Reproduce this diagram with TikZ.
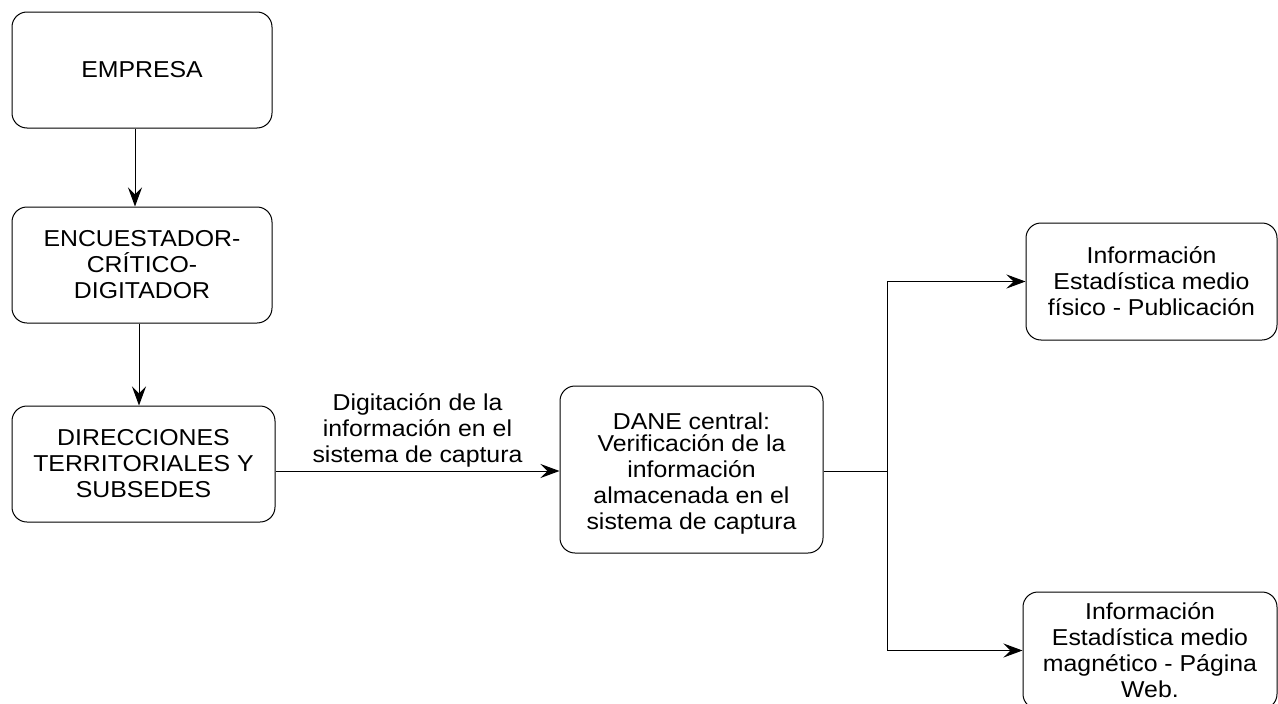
\documentclass[tikz,border=0pt]{standalone}
\usepackage{fontspec}
\setmainfont{Liberation Sans}[FakeStretch=1.08]
\usetikzlibrary{arrows.meta,calc}
\tikzset{
  box/.style={draw=black, line width=1pt, rounded corners=15pt, inner sep=0pt, align=center,
    font=\fontsize{23}{26}\selectfont},
  txt/.style={inner sep=0pt, align=center, font=\fontsize{23}{26}\selectfont},
  arr/.style={draw=black, line width=1pt, -{Stealth[length=19pt,width=14pt,inset=7pt]}},
  ln/.style={draw=black, line width=1pt}
}
\begin{document}
\begin{tikzpicture}[x=1pt,y=-1pt]
\useasboundingbox (0,0) rectangle (1278,704);
\node[box, minimum width=260pt, minimum height=116pt] (emp) at (142,70) {EMPRESA};
\node[box, minimum width=260pt, minimum height=116pt] (enc) at (142,265) {ENCUESTADOR-\\CRÍTICO-\\DIGITADOR};
\node[box, minimum width=263pt, minimum height=116pt] (dir) at (143.5,464) {DIRECCIONES\\TERRITORIALES Y\\SUBSEDES};
\node[box, minimum width=263pt, minimum height=167pt] (dane) at (691.5,469.5) {};
\node[txt] (danetxt) at (691.5,474) {DANE central:\\[-4pt]Verificación de la\\información\\almacenada en el\\sistema de captura};
\node[box, minimum width=251pt, minimum height=117pt] (inf1) at (1151.5,281.5) {Información\\Estadística medio\\físico - Publicación};
\node[box, minimum width=254pt, minimum height=117pt] (inf2) at (1150,650.5) {Información\\Estadística medio\\magnético - Página\\Web.};
\coordinate (split) at (887,471);
\draw[arr] ([xshift=-7pt]emp.south) -- ([xshift=-7pt]enc.north);
\draw[arr] ([xshift=-3pt]enc.south) -- ([xshift=-4.5pt]dir.north);
\draw[arr] ([yshift=-7pt]dir.east) -- node[txt, above=3pt] (lab) {Digitación de la\\información en el\\sistema de captura} ([yshift=-1.5pt]dane.west);
\draw[ln] ([yshift=-1.5pt]dane.east) -- (split);
\draw[arr] (split) |- (inf1.west);
\draw[arr] (split) |- (inf2.west);
\end{tikzpicture}
\end{document}
